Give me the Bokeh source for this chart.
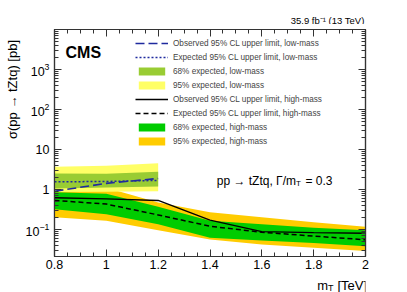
import numpy as np
from bokeh.plotting import figure
from bokeh.layouts import row, column
from bokeh.models import (Range1d, FixedTicker, LogAxis, LinearAxis, Label,
                          Legend, LegendItem, CustomJSTickFormatter)
from bokeh.embed import file_html
from bokeh.resources import INLINE

# ---------------- data ----------------
mass_low = [0.8, 1.0, 1.2]
obs_low = [0.90, 1.42, 1.88]
exp_low = [1.55, 1.58, 1.68]
low68_lo = [1.06, 1.12, 1.19]
low68_hi = [2.50, 2.45, 2.75]
low95_lo = [0.86, 0.88, 0.90]
low95_hi = [3.7, 3.9, 4.5]

mass_high = [0.8, 1.0, 1.2, 1.4, 1.6, 1.8, 2.0]
obs_high = [0.62, 0.58, 0.53, 0.17, 0.088, 0.083, 0.080]
exp_high = [0.53, 0.43, 0.23, 0.12, 0.085, 0.068, 0.055]
high68_lo = [0.32, 0.24, 0.135, 0.062, 0.053, 0.046, 0.038]
high68_hi = [0.85, 0.78, 0.37, 0.165, 0.135, 0.11, 0.095]
high95_lo = [0.20, 0.165, 0.095, 0.056, 0.042, 0.035, 0.029]
high95_hi = [1.2, 1.1, 0.47, 0.27, 0.20, 0.15, 0.116]

x_tick_values = [0.8, 1.0, 1.2, 1.4, 1.6, 1.8, 2.0]
x_tick_labels = ["0.8", "1", "1.2", "1.4", "1.6", "1.8", "2"]
x_minor_values = [round(0.8 + 0.05 * k, 2) for k in range(25)]
y_tick_values = [0.1, 1, 10, 100, 1000]
y_minor_values = [m * 10.0 ** e for e in range(-2, 4) for m in range(2, 10)]

legend_labels = [
    "Observed 95% CL upper limit, low-mass",
    "Expected 95% CL upper limit, low-mass",
    "68% expected, low-mass",
    "95% expected, low-mass",
    "Observed 95% CL upper limit, high-mass",
    "Expected 95% CL upper limit, high-mass",
    "68% expected, high-mass",
    "95% expected, high-mass",
]

FONT = "Liberation Sans"
AX = "#333333"
BLUE = "#1f2a9e"

# ---------------- main plot ----------------
p = figure(width=385, height=251, x_range=Range1d(0.8, 2.0),
           y_range=Range1d(0.021, 10000), y_axis_type="log",
           output_backend="svg", toolbar_location=None,
           min_border_left=30, min_border_right=42,
           min_border_top=5, min_border_bottom=19)
p.grid.visible = False
p.outline_line_color = AX
p.outline_line_width = 1.2
p.background_fill_color = "white"

xt = FixedTicker(ticks=x_tick_values, minor_ticks=x_minor_values)
yt = FixedTicker(ticks=y_tick_values, minor_ticks=y_minor_values)


def style_axis(ax, show_labels=True, fsize="12.5px"):
    ax.major_tick_in = 7
    ax.major_tick_out = 0
    ax.minor_tick_in = 4
    ax.minor_tick_out = 0
    ax.axis_line_color = AX
    ax.axis_line_width = 1.2
    ax.major_tick_line_color = AX
    ax.minor_tick_line_color = AX
    ax.major_label_text_font = FONT
    ax.major_label_text_color = "black"
    if show_labels:
        ax.major_label_text_font_size = fsize
    else:
        ax.formatter = CustomJSTickFormatter(code="return ''")
        ax.major_label_text_font_size = "2px"
        ax.major_label_standoff = 0


xa = p.xaxis[0]
xa.ticker = xt
xa.major_label_overrides = dict(zip(x_tick_values, x_tick_labels))
style_axis(xa)
xa.major_label_standoff = 3

ya = p.yaxis[0]
ya.ticker = yt
ya.major_label_overrides = {1: "1", 10: "10"}
style_axis(ya)
ya.major_label_standoff = 5

top_ax = LinearAxis(ticker=xt)
style_axis(top_ax, show_labels=False)
p.add_layout(top_ax, "above")
right_ax = LogAxis(ticker=yt)
style_axis(right_ax, show_labels=False)
p.add_layout(right_ax, "right")

# bands & lines
r_h95 = p.varea(x=mass_high, y1=high95_lo, y2=high95_hi, fill_color="#ffcc00")
r_h68 = p.varea(x=mass_high, y1=high68_lo, y2=high68_hi, fill_color="#00cc00")
r_l95 = p.varea(x=mass_low, y1=low95_lo, y2=low95_hi, fill_color="#ffff66")
r_l68 = p.varea(x=mass_low, y1=low68_lo, y2=low68_hi, fill_color="#99cc33")
r_hobs = p.line(mass_high, obs_high, line_color="black", line_width=1.4)
r_hexp = p.line(mass_high, exp_high, line_color="black", line_width=1.5,
                line_dash="5 3")
r_lexp = p.line(mass_low, exp_low, line_color=BLUE, line_width=1.5,
                line_dash="2 2")
r_lobs = p.line(mass_low, obs_low, line_color=BLUE, line_width=1.6,
                line_dash="9 4")

renderers = [r_lobs, r_lexp, r_l68, r_l95, r_hobs, r_hexp, r_h68, r_h95]
legend = Legend(items=[LegendItem(label=l, renderers=[r])
                       for l, r in zip(legend_labels, renderers)],
                location=(81, 110), orientation="vertical",
                label_text_font=FONT, label_text_font_size="8.2px",
                glyph_width=33, glyph_height=10, label_height=10,
                label_standoff=5, spacing=4, padding=0, margin=0,
                border_line_color=None, background_fill_alpha=0)
p.add_layout(legend)


def lab(fig, text, x, y, size, align="left", bold=False, angle=0,
        baseline="alphabetic"):
    l = Label(text=text, x=x, y=y, x_units="screen", y_units="screen",
              text_font=FONT, text_font_size=size, text_align=align,
              text_baseline=baseline, angle=angle,
              text_font_style="bold" if bold else "normal", text_color="black")
    fig.add_layout(l)
    return l


lab(p, "CMS", 11, 204, "16px", bold=True)
# pp -> tZtq, Gamma/m_T = 0.3
lab(p, "= 0.3", 278, 75.5, "12px", align="right")
lab(p, "T", 246.5, 73, "8px", align="right")
lab(p, "pp \u2192 tZtq, \u0393/m", 241.5, 75.5, "12px", align="right")


# ---------------- text strips around the plot ----------------
def strip(w, h):
    f = figure(width=w, height=h, x_range=Range1d(0, 1), y_range=Range1d(0, 1),
               output_backend="svg", toolbar_location=None,
               x_axis_location=None, y_axis_location=None, min_border=0)
    f.grid.visible = False
    f.outline_line_color = None
    return f


# (strip frames in the column line up with the main frame: x 52..365)
top_strip = strip(385, 24)
lab(top_strip, "35.9 fb\u207b\u00b9 (13 TeV)", 310, 4, "9.5px", align="right")

x_strip = strip(385, 17)
lab(x_strip, "[TeV]", 312.5, 7, "13px", align="right")
lab(x_strip, "T", 279, 4.5, "9px", align="right")
lab(x_strip, "m", 273.5, 7, "13px", align="right")

y_strip = strip(22, 292)
lab(y_strip, "\u03c3(pp \u2192 tZtq) [pb]", 12, 203, "13px", align="center",
    angle=np.pi / 2, baseline="middle")

layout = row(y_strip, column(top_strip, p, x_strip, spacing=0), spacing=0)

open("out.html", "w").write(file_html(layout, INLINE))
